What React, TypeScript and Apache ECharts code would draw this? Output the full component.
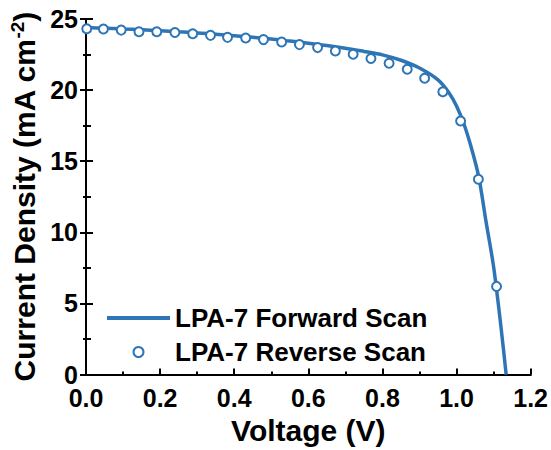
import React, { useEffect, useRef } from "react";
import * as echarts from "echarts";

const BLUE = "#2E75B6";
const FONT = "'Liberation Sans', Arial, Helvetica, sans-serif";

// Forward scan (line)
const forwardV = [0, 0.05, 0.1, 0.15, 0.2, 0.25, 0.3, 0.35, 0.4, 0.45, 0.5, 0.55, 0.6, 0.65, 0.7, 0.75, 0.8, 0.85, 0.9, 0.95, 0.98, 1.0, 1.02, 1.04, 1.06, 1.08, 1.1, 1.12, 1.134];
const forwardJ = [24.4, 24.35, 24.3, 24.25, 24.18, 24.1, 24.02, 23.93, 23.83, 23.72, 23.6, 23.45, 23.3, 23.14, 22.95, 22.72, 22.48, 22.1, 21.55, 20.72, 19.8, 18.88, 17.62, 15.95, 13.9, 10.7, 7.6, 3.35, 0];

// Reverse scan (open circles)
const reverseV = [0.002, 0.047, 0.095, 0.143, 0.191, 0.24, 0.288, 0.336, 0.382, 0.431, 0.479, 0.528, 0.576, 0.625, 0.673, 0.721, 0.769, 0.818, 0.867, 0.914, 0.963, 1.011, 1.059, 1.108];
const reverseJ = [24.31, 24.3, 24.22, 24.1, 24.1, 24.05, 23.96, 23.85, 23.71, 23.66, 23.55, 23.38, 23.2, 22.99, 22.75, 22.52, 22.22, 21.89, 21.47, 20.84, 19.88, 17.83, 13.73, 6.2];

const seriesNames = ["LPA-7 Forward Scan", "LPA-7 Reverse Scan"];

export default function App() {
  const ref = useRef<HTMLDivElement>(null);
  useEffect(() => {
    if (!ref.current) return;
    const chart = echarts.init(ref.current, undefined, { renderer: "svg" });
    const axisLine = { show: true, lineStyle: { color: "#000", width: 2 } };
    const tickLabel = { color: "#000", fontSize: 25, fontWeight: "bold" as const, fontFamily: FONT };
    chart.setOption({
      animation: false,
      backgroundColor: "#fff",
      grid: { left: 86, right: 20, top: 19, bottom: 73 },
      legend: {
        orient: "vertical",
        left: 102,
        top: 300,
        itemWidth: 63,
        itemHeight: 10,
        itemGap: 8,
        textStyle: { color: "#000", fontSize: 26, fontWeight: "bold", fontFamily: FONT, lineHeight: 25 },
        data: [
          { name: seriesNames[0], icon: "path://M0,0H63V4H0Z", itemStyle: { color: BLUE } },
          { name: seriesNames[1] },
        ],
      },
      xAxis: [
        {
          type: "value",
          min: 0,
          max: 1.2,
          interval: 0.2,
          name: "Voltage (V)",
          nameLocation: "middle",
          nameGap: 37,
          nameTextStyle: { color: "#000", fontSize: 30, fontWeight: "bold", fontFamily: FONT },
          axisLine,
          axisTick: { show: true, inside: true, length: 6, lineStyle: { color: "#000", width: 2 } },
          minorTick: { show: true, splitNumber: 2, length: 3, lineStyle: { color: "#000", width: 2 } },
          splitLine: { show: false },
          axisLabel: { ...tickLabel, margin: 12, lineHeight: 22, formatter: (v: number) => v.toFixed(1) },
        },
        {
          type: "value",
          position: "top",
          min: 0,
          max: 1.2,
          interval: 0.2,
          axisLine,
          axisTick: { show: false },
          axisLabel: { show: false },
          splitLine: { show: false },
        },
      ],
      yAxis: [
        {
          type: "value",
          min: 0,
          max: 25,
          interval: 5,
          name: "{a|Current Density (mA cm}{s|-2}{a|)}",
          nameLocation: "middle",
          nameGap: 42,
          nameTextStyle: {
            color: "#000",
            fontFamily: FONT,
            rich: {
              a: { fontSize: 30, fontWeight: "bold", fontFamily: FONT, color: "#000", lineHeight: 32 },
              s: { fontSize: 19, fontWeight: "bold", fontFamily: FONT, color: "#000", verticalAlign: "top", lineHeight: 32 },
            },
          },
          axisLine,
          axisTick: { show: true, inside: true, length: 7, lineStyle: { color: "#000", width: 2 } },
          minorTick: { show: true, splitNumber: 2, length: 5, lineStyle: { color: "#000", width: 2 } },
          splitLine: { show: false },
          axisLabel: { ...tickLabel, margin: 8, lineHeight: 20, padding: [0, 0, 4, 0] },
        },
        {
          type: "value",
          position: "right",
          min: 0,
          max: 25,
          interval: 5,
          axisLine,
          axisTick: { show: true, inside: true, length: 6, lineStyle: { color: "#000", width: 2 } },
          minorTick: { show: true, splitNumber: 2, length: 3, lineStyle: { color: "#000", width: 2 } },
          axisLabel: { show: false },
          splitLine: { show: false },
        },
      ],
      series: [
        {
          name: seriesNames[0],
          type: "line",
          smooth: 0.3,
          symbol: "none",
          lineStyle: { color: BLUE, width: 3.5 },
          itemStyle: { color: BLUE },
          data: forwardV.map((v, i) => [v, forwardJ[i]]),
          z: 2,
        },
        {
          name: seriesNames[1],
          type: "scatter",
          symbol: "circle",
          symbolSize: 9,
          itemStyle: { color: "#fff", borderColor: BLUE, borderWidth: 2, opacity: 1 },
          data: reverseV.map((v, i) => [v, reverseJ[i]]),
          z: 3,
        },
      ],
    });
    return () => chart.dispose();
  }, []);
  return <div ref={ref} style={{ width: 551, height: 450, position: "absolute", left: 0, top: 0 }} />;
}
